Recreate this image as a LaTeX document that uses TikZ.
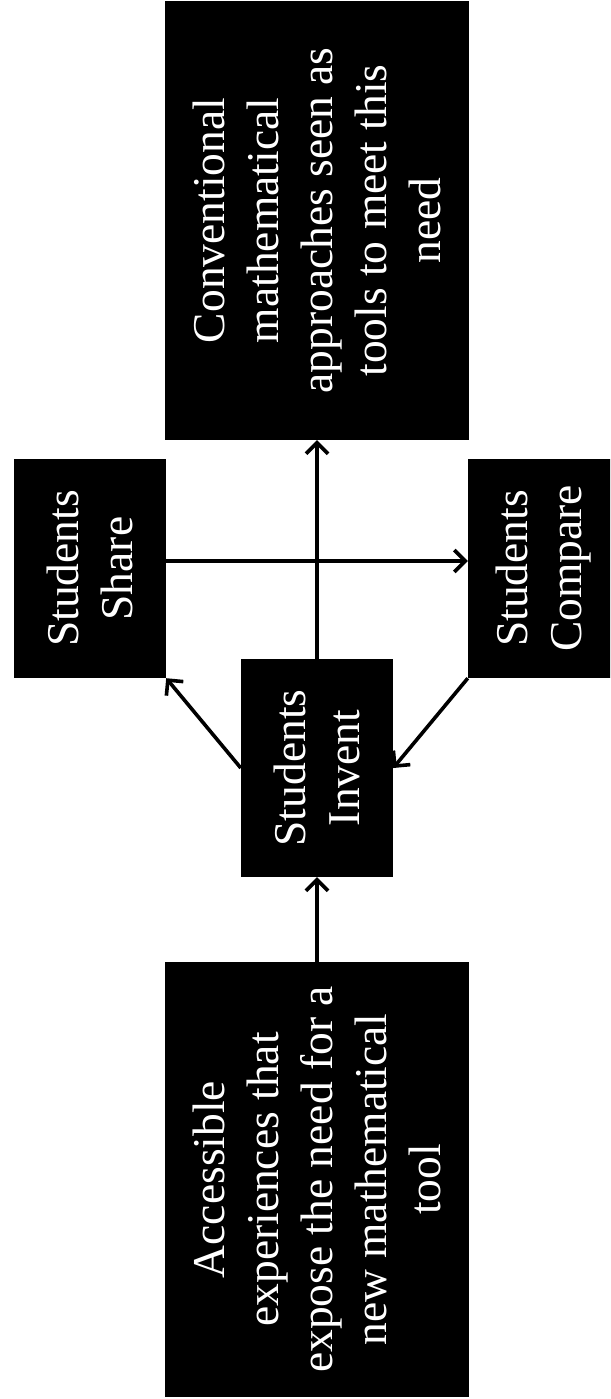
\documentclass[tikz,border=0pt]{standalone}
\usepackage{fontspec}
\setmainfont{Liberation Serif}
\usetikzlibrary{arrows.meta}
\begin{document}
\begin{tikzpicture}[x=1pt,y=-1pt,
  blk/.style={fill=black, text=white, rotate=90, inner sep=0pt,
    align=center, font=\fontsize{45.5}{54}\selectfont},
  bigbox/.style={blk, minimum height=304pt},
  smallbox/.style={blk, minimum height=152pt},
  arr/.style={line width=3.6pt, -{Straight Barb[length=11pt,width=22pt,line width=3.6pt]}}]
  \useasboundingbox (0,0) rectangle (610,1399);
  \clip (0,0) rectangle (610,1399);

  % the five stages of the cycle
  \node[bigbox, minimum width=439pt] (conv) at (317,220.5)
    {Conventional\\mathematical\\approaches seen as\\tools to meet this\\need};
  \node[smallbox, minimum width=219pt] (shr) at (90,568.5) {Students\\Share};
  \node[smallbox, minimum width=219pt] (cmp) at (544,568.5) {Students\\Compare};
  \node[smallbox, minimum width=218pt] (inv) at (317,768) {Students\\Invent};
  \node[bigbox, minimum width=435pt] (acc) at (317,1179.5)
    {Accessible\\experiences that\\expose the need for a\\new mathematical\\tool};

  % connectors
  \draw[arr] (acc.east) -- (inv.west);
  \draw[arr] (inv.east) -- (conv.west);
  \draw[arr] (inv.north) -- (shr.south west);
  \draw[arr] (shr.south |- 0,561) -- (cmp.north |- 0,561);
  \draw[arr] (cmp.north west) -- (inv.south);
\end{tikzpicture}
\end{document}
